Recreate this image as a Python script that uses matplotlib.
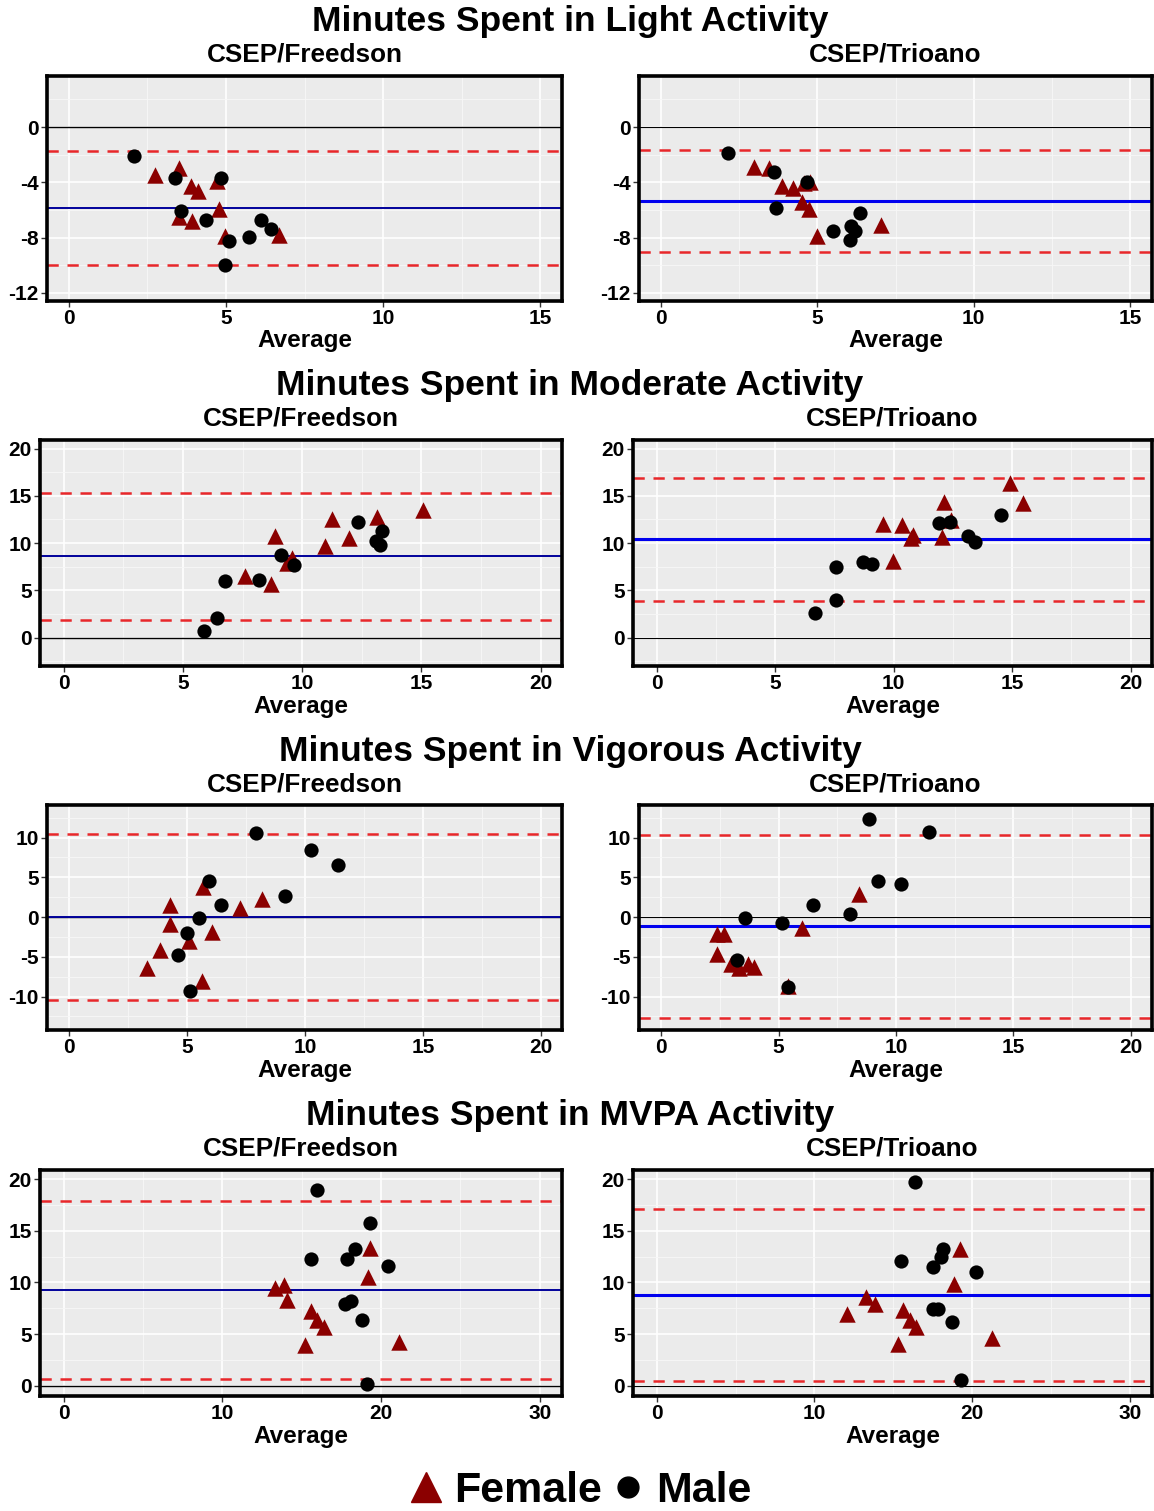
import matplotlib.pyplot as plt
from matplotlib.lines import Line2D
from matplotlib.ticker import MultipleLocator

plt.rcParams['font.family'] = ['Liberation Sans Narrow', 'Liberation Sans', 'DejaVu Sans']
plt.rcParams['font.weight'] = 'bold'
plt.rcParams['axes.unicode_minus'] = False

# ---- data: Bland-Altman points (Average, Difference) ----
# Light activity, CSEP/Freedson
light_fre_m_x = [2.06, 3.37, 3.57, 4.83, 4.37, 4.97, 5.11, 5.72, 6.10, 6.44]
light_fre_m_y = [-2.13, -3.71, -6.11, -3.68, -6.76, -9.99, -8.24, -7.95, -6.74, -7.42]
light_fre_f_x = [2.74, 3.51, 3.51, 3.89, 4.11, 3.91, 4.71, 4.77, 4.97, 6.70]
light_fre_f_y = [-3.44, -2.96, -6.50, -4.24, -4.65, -6.79, -3.88, -5.94, -7.88, -7.81]
light_fre_lines = [-5.87, -1.70, -10.01]   # mean, upper LoA, lower LoA

# Light activity, CSEP/Trioano
light_tri_m_x = [2.16, 3.63, 3.68, 4.67, 5.49, 6.07, 6.22, 6.06, 6.36]
light_tri_m_y = [-1.89, -3.25, -5.89, -3.95, -7.52, -7.20, -7.52, -8.17, -6.25]
light_tri_f_x = [2.98, 3.46, 3.88, 4.23, 4.58, 4.76, 4.51, 4.73, 4.98, 7.05]
light_tri_f_y = [-2.91, -2.93, -4.24, -4.41, -4.07, -3.95, -5.45, -5.94, -7.88, -7.08]
light_tri_lines = [-5.36, -1.67, -9.07]

# Moderate activity, CSEP/Freedson
mod_fre_m_x = [5.89, 6.42, 6.75, 8.18, 9.10, 9.64, 12.35, 13.09, 13.34, 13.28]
mod_fre_m_y = [0.67, 2.12, 5.95, 6.09, 8.78, 7.65, 12.25, 10.27, 11.26, 9.81]
mod_fre_f_x = [7.59, 8.71, 8.88, 9.35, 9.58, 10.95, 11.23, 11.98, 13.14, 15.05]
mod_fre_f_y = [6.48, 5.66, 10.80, 7.89, 8.42, 9.66, 12.57, 10.55, 12.78, 13.45]
mod_fre_lines = [8.60, 15.29, 1.91]

# Moderate activity, CSEP/Trioano
mod_tri_m_x = [6.69, 7.55, 7.55, 8.72, 9.09, 11.92, 12.37, 13.12, 13.45, 14.51]
mod_tri_m_y = [2.62, 7.43, 3.93, 8.00, 7.82, 12.14, 12.25, 10.76, 10.09, 12.99]
mod_tri_f_x = [9.54, 9.95, 10.37, 10.82, 10.75, 12.02, 12.11, 12.40, 14.92, 15.46]
mod_tri_f_y = [12.04, 8.14, 11.89, 10.83, 10.55, 10.65, 14.37, 12.40, 16.32, 14.19]
mod_tri_lines = [10.44, 16.92, 3.86]

# Vigorous activity, CSEP/Freedson
vig_fre_m_x = [7.93, 10.25, 11.41, 5.92, 6.45, 9.14, 5.51, 5.01, 4.62, 5.13]
vig_fre_m_y = [10.52, 8.39, 6.54, 4.57, 1.47, 2.64, -0.08, -2.01, -4.78, -9.35]
vig_fre_f_x = [4.27, 4.25, 5.65, 7.24, 8.18, 6.04, 5.09, 3.85, 3.30, 5.64]
vig_fre_f_y = [1.55, -0.84, 3.82, 1.09, 2.26, -1.93, -3.06, -4.11, -6.46, -8.09]
vig_fre_lines = [0.02, 10.44, -10.40]

# Vigorous activity, CSEP/Trioano
vig_tri_m_x = [8.83, 11.41, 9.25, 10.20, 6.48, 8.03, 3.55, 5.14, 3.23, 5.39]
vig_tri_m_y = [12.33, 10.73, 4.49, 4.11, 1.55, 0.42, -0.13, -0.71, -5.45, -8.76]
vig_tri_f_x = [8.44, 5.98, 2.38, 2.67, 2.36, 2.95, 3.30, 3.70, 3.94, 5.39]
vig_tri_f_y = [2.85, -1.34, -2.10, -2.10, -4.61, -5.87, -6.46, -5.87, -6.25, -8.68]
vig_tri_lines = [-1.17, 10.36, -12.75]

# MVPA, CSEP/Freedson
mvpa_fre_m_x = [15.98, 19.31, 15.56, 17.84, 18.33, 20.43, 17.70, 18.12, 18.80, 19.08]
mvpa_fre_m_y = [19.00, 15.77, 12.29, 12.23, 13.26, 11.55, 7.94, 8.19, 6.35, 0.16]
mvpa_fre_f_x = [13.30, 13.88, 14.07, 15.58, 15.98, 16.42, 15.23, 19.31, 19.20, 21.11]
mvpa_fre_f_y = [9.48, 9.74, 8.35, 7.26, 6.35, 5.65, 3.94, 13.39, 10.55, 4.26]
mvpa_fre_lines = [9.26, 17.90, 0.61]

# MVPA, CSEP/Trioano
mvpa_tri_m_x = [16.40, 15.50, 17.53, 18.01, 18.13, 20.25, 17.53, 17.83, 18.71, 19.31]
mvpa_tri_m_y = [19.71, 12.06, 11.48, 12.48, 13.29, 11.03, 7.45, 7.45, 6.13, 0.55]
mvpa_tri_f_x = [12.08, 13.30, 13.86, 15.59, 16.05, 16.44, 15.31, 18.85, 19.24, 21.27]
mvpa_tri_f_y = [6.90, 8.61, 7.90, 7.32, 6.39, 5.71, 4.06, 9.87, 13.23, 4.58]
mvpa_tri_lines = [8.77, 17.10, 0.45]

row_titles = ["Minutes Spent in Light Activity", "Minutes Spent in Moderate Activity",
              "Minutes Spent in Vigorous Activity", "Minutes Spent in MVPA Activity"]
col_titles = ["CSEP/Freedson", "CSEP/Trioano"]

# ---- layout (pixels) ----
W, H = 1154, 1511
fig = plt.figure(figsize=(W / 100, H / 100), dpi=100)

rows = [
    # panels, xlim, ylim, x major, y major, left edges, top, bottom
    dict(left=(light_fre_m_x, light_fre_m_y, light_fre_f_x, light_fre_f_y, light_fre_lines),
         right=(light_tri_m_x, light_tri_m_y, light_tri_f_x, light_tri_f_y, light_tri_lines),
         xlim=(-0.7, 15.7), ylim=(-12.6, 3.7), xs=5, ys=4, lefts=(47, 639), top=76, bot=301),
    dict(left=(mod_fre_m_x, mod_fre_m_y, mod_fre_f_x, mod_fre_f_y, mod_fre_lines),
         right=(mod_tri_m_x, mod_tri_m_y, mod_tri_f_x, mod_tri_f_y, mod_tri_lines),
         xlim=(-1.0, 20.9), ylim=(-3.0, 20.9), xs=5, ys=5, lefts=(40, 633), top=440, bot=666),
    dict(left=(vig_fre_m_x, vig_fre_m_y, vig_fre_f_x, vig_fre_f_y, vig_fre_lines),
         right=(vig_tri_m_x, vig_tri_m_y, vig_tri_f_x, vig_tri_f_y, vig_tri_lines),
         xlim=(-0.95, 20.9), ylim=(-14.2, 14.1), xs=5, ys=5, lefts=(47, 639), top=805, bot=1030),
    dict(left=(mvpa_fre_m_x, mvpa_fre_m_y, mvpa_fre_f_x, mvpa_fre_f_y, mvpa_fre_lines),
         right=(mvpa_tri_m_x, mvpa_tri_m_y, mvpa_tri_f_x, mvpa_tri_f_y, mvpa_tri_lines),
         xlim=(-1.5, 31.4), ylim=(-1.0, 20.9), xs=10, ys=5, lefts=(40, 633), top=1170, bot=1396),
]
rights = (562, 1152)
fem_col = '#8B0000'


def fy(y):
    return 1 - y / H


for i, r in enumerate(rows):
    fig.text(570 / W, fy(21 + 365 * i), row_titles[i], ha='center', va='center', fontsize=25.5)
    for j, key in enumerate(('left', 'right')):
        l, rr = r['lefts'][j], rights[j]
        ax = fig.add_axes([l / W, fy(r['bot']), (rr - l) / W, (r['bot'] - r['top']) / H])
        mx, my, fx, fyv, lines = r[key]
        ax.set_facecolor('#EBEBEB')
        ax.set_axisbelow(True)
        ax.xaxis.set_major_locator(MultipleLocator(r['xs']))
        ax.xaxis.set_minor_locator(MultipleLocator(r['xs'] / 2))
        ax.yaxis.set_major_locator(MultipleLocator(r['ys']))
        ax.yaxis.set_minor_locator(MultipleLocator(r['ys'] / 2))
        ax.grid(which='major', color='white', lw=1.2)
        ax.grid(which='minor', color='#F7F7F7', lw=0.6)
        ax.axhline(0, color='black', lw=1.0 if j == 0 else 0.8, zorder=1)
        ax.axhline(lines[0], color='#0000EE' if j == 1 else '#00009A', lw=1.4 if j == 0 else 2.2, zorder=2)
        ax.axhline(lines[1], color='#E8272A', lw=1.8, ls=(0, (4.5, 3.5)), zorder=2)
        ax.axhline(lines[2], color='#E8272A', lw=1.8, ls=(0, (4.5, 3.5)), zorder=2)
        ax.scatter(fx, fyv, marker='^', s=140, color=fem_col, linewidths=0, zorder=3)
        ax.scatter(mx, my, marker='o', s=105, color='black', linewidths=0, zorder=4)
        ax.set_xlim(*r['xlim'])
        ax.set_ylim(*r['ylim'])
        for s in ax.spines.values():
            s.set_linewidth(2.6)
            s.set_color('black')
        ax.tick_params(which='major', length=4, width=1, color='#333333', labelsize=15, pad=2,
                       labelcolor='black')
        ax.tick_params(which='minor', length=0)
        cx = (l + rr) / 2
        fig.text(cx / W, fy(54 + 365 * i), col_titles[j], ha='center', va='center', fontsize=18.8)
        fig.text(cx / W, fy(341 + 365 * i), "Average", ha='center', va='center', fontsize=17.5)

handles = [Line2D([], [], marker='^', ls='none', color=fem_col, markersize=21, label='Female'),
           Line2D([], [], marker='o', ls='none', color='black', markersize=15, label='Male')]
fig.legend(handles=handles, loc='center', bbox_to_anchor=(578 / W, fy(1491)), ncol=2, frameon=False,
           fontsize=31, handletextpad=0.15, columnspacing=0.1, handlelength=1.0)

fig.savefig('out.png', dpi=100)
